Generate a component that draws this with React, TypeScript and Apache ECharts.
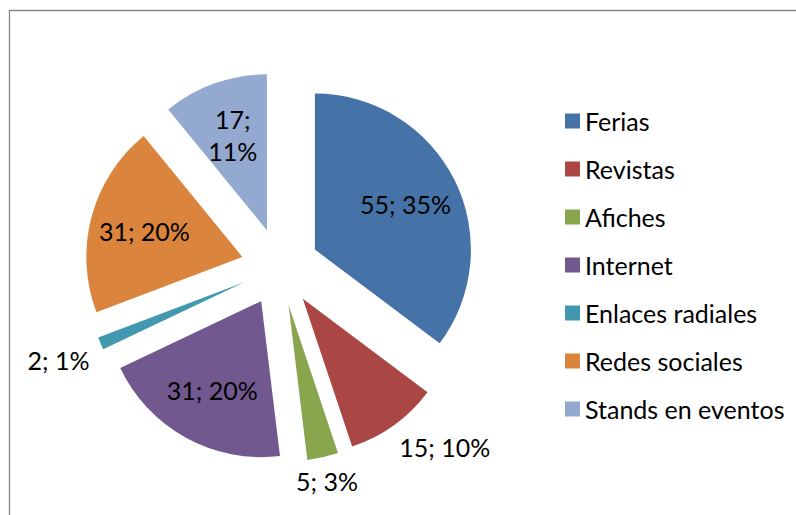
import React, { useEffect, useRef } from "react";
import * as echarts from "echarts";

const categories = [
  "Ferias",
  "Revistas",
  "Afiches",
  "Internet",
  "Enlaces radiales",
  "Redes sociales",
  "Stands en eventos",
];
const values = [55, 15, 5, 31, 2, 31, 17];
const colors = ["#4572A7", "#AA4643", "#89A54E", "#71588F", "#4198AF", "#DB843D", "#93A9CF"];

const CX = 280;
const CY = 267;
const R = 156;
const OFFSET = 39;
const FONT = "Lato, 'Noto Sans', sans-serif";
const FS = 25;

export default function App() {
  const ref = useRef<HTMLDivElement>(null);
  useEffect(() => {
    const chart = echarts.init(ref.current!, null, { renderer: "svg" });
    const total = values.reduce((a, b) => a + b, 0);
    const share = values.map((v) => v / total);
    const mids: number[] = [];
    let acc = 0;
    values.forEach((v) => {
      mids.push(((acc + v / 2) / total) * 2 * Math.PI);
      acc += v;
    });
    const outside = share.map((s) => s < 0.1);
    const wrap = share.map((s) => s >= 0.1 && s < 0.15);
    const fx = (t: number) => Math.sign(t) * Math.min(1, Math.max(0, (Math.abs(t) - 0.2) * 2.5));
    const fy = (t: number) => Math.sign(t) * Math.min(1, Math.abs(t) * 2.5);

    const baseSeries = {
      type: "pie",
      center: [CX, CY],
      radius: [0, R],
      startAngle: 90,
      clockwise: true,
      percentPrecision: 0,
      emphasis: { disabled: true },
      itemStyle: { borderWidth: 0 },
      labelLine: { show: false },
    };

    chart.setOption({
      animation: false,
      graphic: [
        {
          type: "rect",
          silent: true,
          shape: { x: 9.5, y: 10.5, width: 900, height: 600 },
          style: { fill: "none", stroke: "#868686", lineWidth: 1.3 },
        },
      ],
      legend: {
        orient: "vertical",
        left: 560,
        top: 103,
        itemWidth: 15,
        itemHeight: 15,
        itemGap: 22,
        icon: "rect",
        selectedMode: false,
        textStyle: { fontFamily: FONT, fontSize: FS, color: "#000", lineHeight: 26 },
        data: categories,
      },
      series: [
        {
          ...baseSeries,
          name: "slices",
          selectedMode: "multiple",
          selectedOffset: OFFSET,
          select: { itemStyle: { borderWidth: 0 } },
          label: { show: false },
          data: categories.map((name, i) => ({
            name,
            value: values[i],
            selected: true,
            itemStyle: { color: colors[i] },
          })),
        },
        {
          ...baseSeries,
          name: "labels",
          silent: true,
          selectedMode: false,
          label: {
            show: true,
            position: "inside",
            color: "#000",
            fontFamily: FONT,
            fontSize: FS,
            lineHeight: 32,
            formatter: (p: any) =>
              wrap[p.dataIndex] ? `${p.value};\n${p.percent}%` : `${p.value}; ${p.percent}%`,
          },
          labelLayout: (p: any) => {
            const i = p.dataIndex;
            const dx = Math.sin(mids[i]);
            const dy = -Math.cos(mids[i]);
            const w = p.labelRect.width;
            const h = FS;
            let x: number;
            let y: number;
            if (outside[i]) {
              const d = OFFSET + R + 12;
              x = CX + d * dx + (fx(dx) * w) / 2;
              y = CY + d * dy + (fy(dy) * h) / 2;
            } else {
              const d = OFFSET + R * 0.65;
              x = CX + d * dx;
              y = CY + d * dy;
            }
            return { x, y, align: "center", verticalAlign: "middle" };
          },
          data: categories.map((name, i) => ({
            name,
            value: values[i],
            itemStyle: { color: "rgba(0,0,0,0)" },
          })),
        },
      ],
    });
    return () => chart.dispose();
  }, []);
  return (
    <div
      ref={ref}
      style={{ position: "absolute", left: 0, top: 0, width: 796, height: 515, background: "#fff" }}
    />
  );
}
